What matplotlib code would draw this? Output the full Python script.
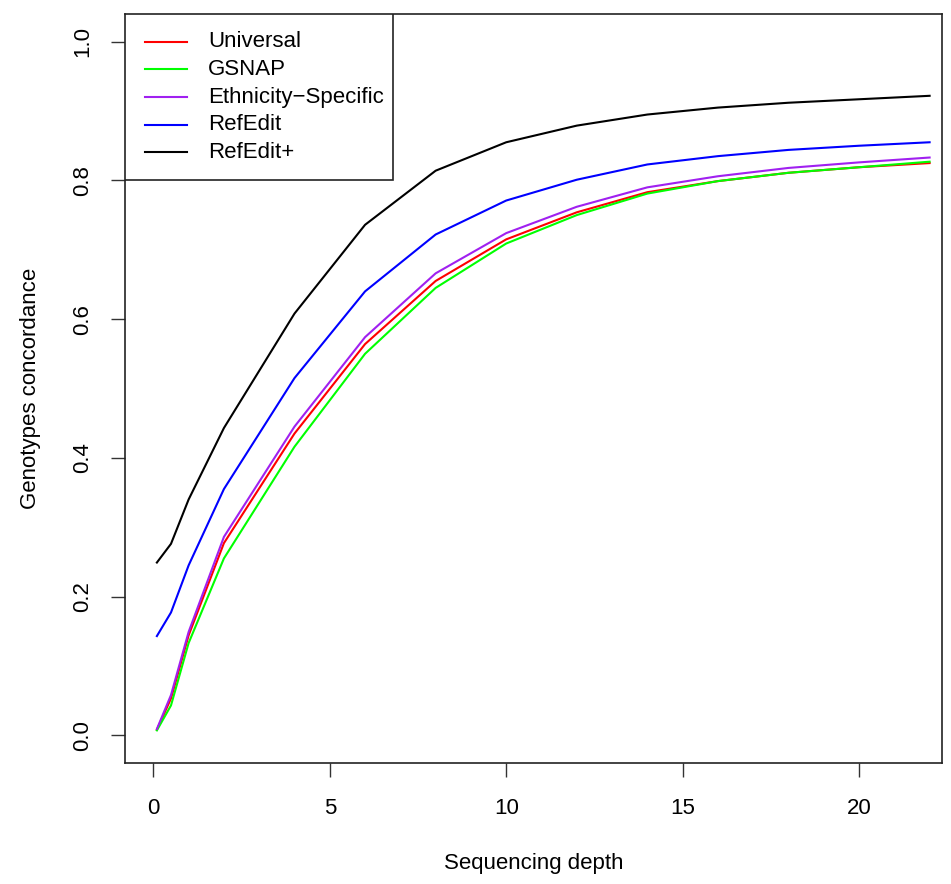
import matplotlib
matplotlib.use("Agg")
import matplotlib.pyplot as plt
from matplotlib.patches import Rectangle

plt.rcParams['font.family'] = ['Liberation Sans', 'DejaVu Sans']

# sequencing depth values where concordance was measured
depth = [0.1, 0.5, 1, 2, 4, 6, 8, 10, 12, 14, 16, 18, 20, 22]

universal = [0.008, 0.053, 0.144, 0.277, 0.435, 0.564, 0.655, 0.715, 0.754,
             0.783, 0.799, 0.811, 0.819, 0.825]
gsnap = [0.007, 0.043, 0.133, 0.255, 0.416, 0.550, 0.645, 0.709, 0.750,
         0.781, 0.799, 0.811, 0.819, 0.827]
ethnic = [0.009, 0.058, 0.149, 0.286, 0.445, 0.574, 0.666, 0.724, 0.762,
          0.790, 0.806, 0.818, 0.826, 0.833]
refedit = [0.143, 0.177, 0.245, 0.355, 0.515, 0.640, 0.722, 0.771, 0.801,
           0.823, 0.835, 0.844, 0.850, 0.855]
refedit_plus = [0.249, 0.276, 0.340, 0.443, 0.608, 0.736, 0.814, 0.855, 0.879,
                0.895, 0.905, 0.912, 0.917, 0.922]

names = ["Universal", "GSNAP", "Ethnicity\u2212Specific", "RefEdit", "RefEdit+"]
values = [universal, gsnap, ethnic, refedit, refedit_plus]
colors = ["#ff0000", "#00ff00", "#a020f0", "#0000ff", "#000000"]

fig = plt.figure(figsize=(9.51, 8.84), dpi=100)
ax = fig.add_axes([0.1312, 0.1369, 0.8593, 0.8473])

for vals, col in zip(values, colors):
    ax.plot(depth, vals, color=col, lw=1.5)

ax.set_xlim(-0.81, 22.35)
ax.set_ylim(-0.04, 1.04)
ax.set_xticks([0, 5, 10, 15, 20])
ax.set_yticks([0.0, 0.2, 0.4, 0.6, 0.8, 1.0])
ax.set_yticklabels(["0.0", "0.2", "0.4", "0.6", "0.8", "1.0"],
                   rotation=90, va='center')
ax.tick_params(length=10, width=1, pad=15, labelsize=16, color='#333333')
ax.tick_params(axis='y', pad=13)

for s in ax.spines.values():
    s.set_linewidth(1.2)
    s.set_color('#222222')

ax.set_xlabel("Sequencing depth", fontsize=16, labelpad=25)
ax.set_ylabel("Genotypes concordance", fontsize=16, labelpad=22)

# legend box drawn by hand, R style, in axes fractions
tr = ax.transAxes
ax.add_patch(Rectangle((0, 0.7784), 0.3278, 0.2216, transform=tr,
                       facecolor='white', edgecolor='#222222', lw=1.2,
                       zorder=5))
rows = [0.963, 0.9262, 0.8888, 0.8518, 0.8154]
for name, col, yy in zip(names, colors, rows):
    ax.plot([0.0249, 0.0761], [yy, yy], color=col, lw=1.5, transform=tr,
            zorder=6)
    ax.text(0.1018, yy, name, transform=tr, fontsize=16, va='center',
            ha='left', zorder=6)

fig.savefig("out.png", dpi=100)
